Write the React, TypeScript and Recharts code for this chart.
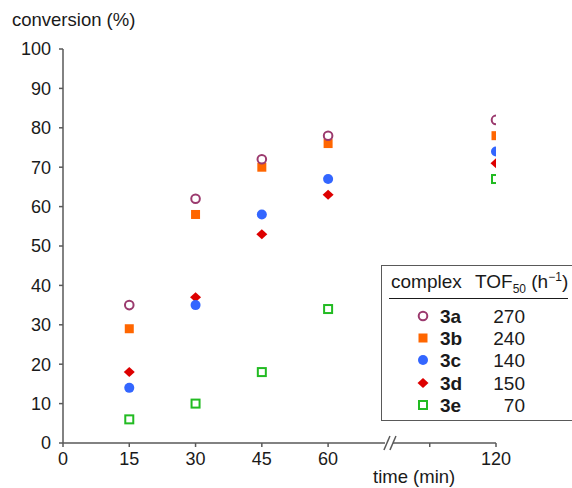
import {
  ScatterChart,
  Scatter,
  XAxis,
  YAxis,
  ReferenceDot,
} from "recharts";

const times = [15, 30, 45, 60, 120];
const conv3a = [35, 62, 72, 78, 82];
const conv3b = [29, 58, 70, 76, 78];
const conv3c = [14, 35, 58, 67, 74];
const conv3d = [18, 37, 53, 63, 71];
const conv3e = [6, 10, 18, 34, 67];
const complexes = ["3a", "3b", "3c", "3d", "3e"];
const tofValues = [270, 240, 140, 150, 70];
const yTicks = [0, 10, 20, 30, 40, 50, 60, 70, 80, 90, 100];
const xTickPos = [0, 15, 30, 45, 60, 83, 98];
const xTickLabels = ["0", "15", "30", "45", "60", "", "120"];

// broken axis: everything past the break is squeezed, 120 min sits at 98
const BREAK_POS = 74;
const axisPos = (t: number) => (t > 60 ? 98 : t);

const FONT = "'Liberation Sans', Arial, sans-serif";
const TEXT = "#1a1a1a";
const AXIS = "#595959";

const colors = {
  a: "#9b3a6e",
  b: "#ff6600",
  c: "#3366ff",
  d: "#dd0000",
  e: "#22bb22",
};

function OpenCircle(p: any) {
  return <circle cx={p.cx} cy={p.cy} r={4.3} fill="#fff" stroke={colors.a} strokeWidth={2} />;
}
function FilledSquare(p: any) {
  return <rect x={p.cx - 4.5} y={p.cy - 4.5} width={9} height={9} fill={colors.b} />;
}
function FilledCircle(p: any) {
  return <circle cx={p.cx} cy={p.cy} r={5} fill={colors.c} />;
}
function Diamond(p: any) {
  const { cx, cy } = p;
  return (
    <polygon
      points={`${cx - 5.5},${cy} ${cx},${cy - 5} ${cx + 5.5},${cy} ${cx},${cy + 5}`}
      fill={colors.d}
    />
  );
}
function OpenSquare(p: any) {
  return (
    <rect x={p.cx - 4} y={p.cy - 4} width={8} height={8} fill="#fff" stroke={colors.e} strokeWidth={2} />
  );
}

const shapes = [OpenCircle, FilledSquare, FilledCircle, Diamond, OpenSquare];
const seriesValues = [conv3a, conv3b, conv3c, conv3d, conv3e];

const toPoints = (vals: number[]) => times.map((t, i) => ({ x: axisPos(t), y: vals[i] }));

function BreakMark(p: any) {
  const { cx, cy } = p;
  return (
    <g>
      <rect x={cx - 5} y={cy - 2} width={8} height={4} fill="#fff" />
      <line x1={cx - 6} y1={cy + 7} x2={cx} y2={cy - 7} stroke={AXIS} strokeWidth={1.5} />
      <line x1={cx} y1={cy + 7} x2={cx + 6} y2={cy - 7} stroke={AXIS} strokeWidth={1.5} />
    </g>
  );
}

function TableLegend() {
  return (
    <div
      style={{
        position: "absolute",
        left: 381,
        top: 265,
        width: 200,
        height: 154,
        border: `1.5px solid ${AXIS}`,
        background: "#fff",
        fontFamily: FONT,
        fontSize: 19,
        color: TEXT,
        lineHeight: "22px",
      }}
    >
      <div style={{ position: "absolute", left: 9, top: 5, whiteSpace: "nowrap" }}>complex</div>
      <div style={{ position: "absolute", left: 93, top: 5, whiteSpace: "nowrap" }}>
        TOF<sub style={{ fontSize: 12, lineHeight: 0 }}>50</sub> (h
        <sup style={{ fontSize: 12, lineHeight: 0 }}>−1</sup>)
      </div>
      <div
        style={{ position: "absolute", left: 7, right: 14, top: 32, borderTop: `1.5px solid ${TEXT}` }}
      />
      {complexes.map((c, i) => {
        const Shape = shapes[i];
        const top = 40 + i * 22.2;
        return (
          <div key={c}>
            <svg style={{ position: "absolute", left: 34, top: top + 3 }} width={14} height={14}>
              <Shape cx={7} cy={7} />
            </svg>
            <div style={{ position: "absolute", left: 58, top: top, fontWeight: "bold" }}>{c}</div>
            <div style={{ position: "absolute", left: 100, width: 43, textAlign: "right", top: top }}>
              {tofValues[i]}
            </div>
          </div>
        );
      })}
    </div>
  );
}

export default function App() {
  return (
    <div
      style={{
        position: "absolute",
        left: 0,
        top: 0,
        width: 572,
        height: 488,
        background: "#fff",
        overflow: "hidden",
      }}
    >
      <ScatterChart
        width={572}
        height={488}
        margin={{ top: 49, right: 76, left: 0, bottom: 0 }}
      >
        <XAxis
          type="number"
          dataKey="x"
          domain={[0, 98]}
          ticks={xTickPos}
          interval={0}
          tickFormatter={(v: number) => xTickLabels[xTickPos.indexOf(v)] ?? ""}
          height={45}
          stroke={AXIS}
          strokeWidth={1.5}
          tickSize={4}
          tickMargin={5}
          tick={{ fill: TEXT, fontSize: 18, fontFamily: FONT }}
          allowDataOverflow
        />
        <YAxis
          type="number"
          dataKey="y"
          domain={[0, 100]}
          ticks={yTicks}
          interval={0}
          width={63}
          stroke={AXIS}
          strokeWidth={1.5}
          tickSize={4}
          tickMargin={8}
          tick={{ fill: TEXT, fontSize: 18, fontFamily: FONT }}
        />
        {seriesValues
          .map((vals, i) => (
            <Scatter
              key={complexes[i]}
              name={complexes[i]}
              data={toPoints(vals)}
              shape={shapes[i]}
              isAnimationActive={false}
            />
          ))
          .reverse()}
        <ReferenceDot x={BREAK_POS} y={0} ifOverflow="visible" shape={BreakMark} />
      </ScatterChart>
      <div
        style={{ position: "absolute", left: 12, top: 9, fontFamily: FONT, fontSize: 18.5, color: TEXT }}
      >
        conversion (%)
      </div>
      <div
        style={{ position: "absolute", left: 373, top: 466, fontFamily: FONT, fontSize: 18.5, color: TEXT }}
      >
        time (min)
      </div>
      <TableLegend />
    </div>
  );
}
